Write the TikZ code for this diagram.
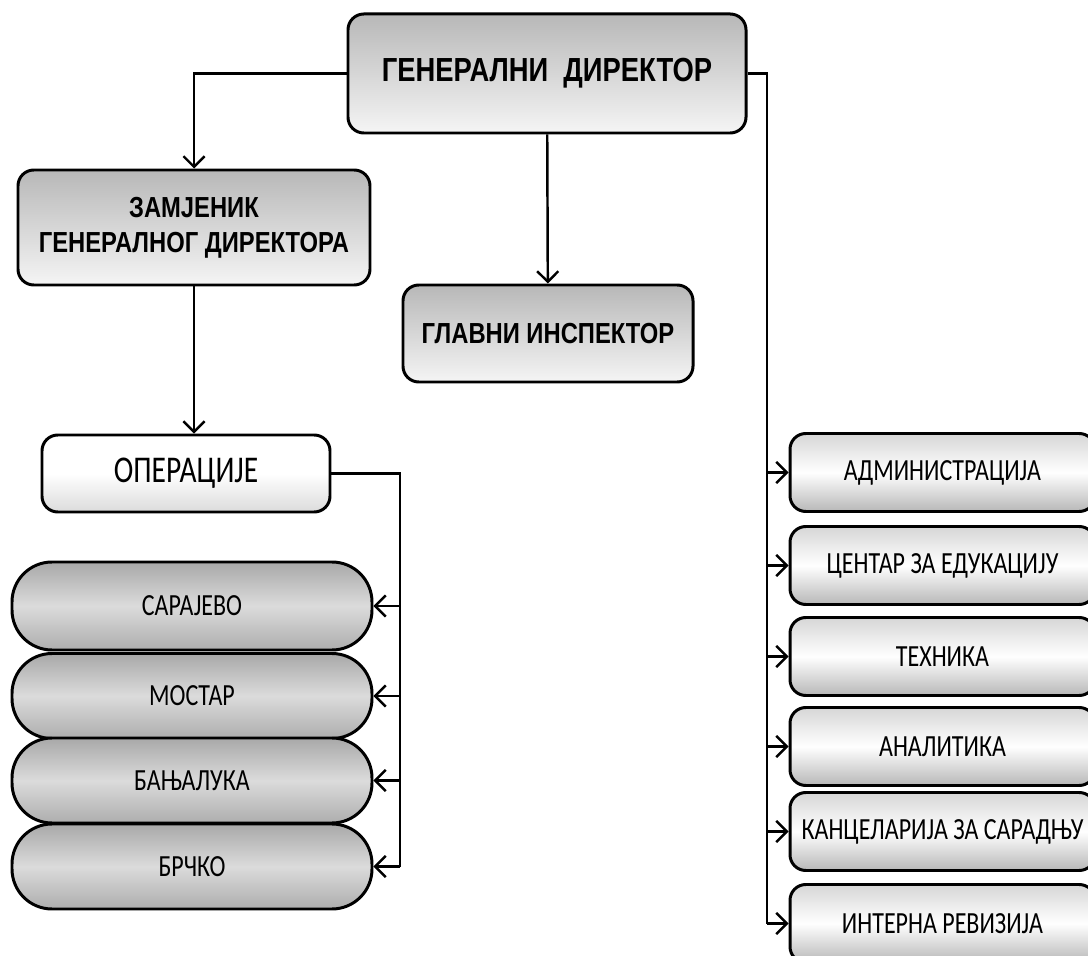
\documentclass[tikz,border=0pt]{standalone}
\usepackage{fontspec}
\newfontfamily\chieffont{Liberation Sans}[FakeStretch=0.82]
\newfontfamily\unitfont{Carlito}[FakeStretch=0.78]
\usetikzlibrary{arrows.meta,calc}

\tikzset{
  box/.style={draw=black,line width=1.7pt,rounded corners=9pt,inner sep=2pt},
  chief/.style={box,top color=black!28,bottom color=black!4,align=center,
    font=\chieffont\bfseries\fontsize{16.5}{20}\selectfont},
  unit/.style={box,top color=black!16,bottom color=black!28,middle color=white,
    minimum width=6.1cm,minimum height=1.56cm,font=\unitfont\fontsize{17.5}{18}\selectfont},
  city/.style={box,rounded corners=0.8cm,top color=black!34,bottom color=black!32,middle color=black!14,
    minimum width=7.2cm,minimum height=1.7cm,font=\unitfont\fontsize{17.5}{18}\selectfont},
  link/.style={line width=1.4pt},
  arr/.style={link,-{Straight Barb[length=6pt,width=12pt,line width=1.4pt]}}
}

\begin{document}
\begin{tikzpicture}
  \useasboundingbox (0,0) rectangle (21.76,-19.12);
  \clip (0,0) rectangle (21.76,-19.12);
  % top of the chart
  \node[chief,minimum width=7.96cm,minimum height=2.38cm,font=\chieffont\bfseries\fontsize{19}{22}\selectfont]
    (gen) at (10.94,-1.47) {ГЕНЕРАЛНИ\ \ ДИРЕКТОР};
  \node[chief,minimum width=7.04cm,minimum height=2.3cm] (zam) at (3.88,-4.55) {ЗАМЈЕНИК\\ГЕНЕРАЛНОГ ДИРЕКТОРА};
  \node[chief,minimum width=5.8cm,minimum height=1.94cm] (insp) at (10.96,-6.67) {ГЛАВНИ ИНСПЕКТОР};
  \node[unit,top color=white,bottom color=black!14,middle color=white,minimum width=5.76cm,minimum height=1.54cm,
    font=\unitfont\fontsize{21.5}{22}\selectfont] (oper) at (3.72,-9.47) {ОПЕРАЦИЈЕ};
  % offices
  \node[city,minimum height=1.76cm] (sar) at (3.84,-12.12) {САРАЈЕВО};
  \node[city] (mos) at (3.84,-13.92) {МОСТАР};
  \node[city] (ban) at (3.84,-15.61) {БАЊАЛУКА};
  \node[city] (brc) at (3.84,-17.33) {БРЧКО};
  % departments
  \node[unit] (adm) at (18.85,-9.45) {АДМИНИСТРАЦИЈА};
  \node[unit] (edu) at (18.85,-11.31) {ЦЕНТАР ЗА ЕДУКАЦИЈУ};
  \node[unit] (teh) at (18.85,-13.13) {ТЕХНИКА};
  \node[unit] (ana) at (18.85,-14.93) {АНАЛИТИКА};
  \node[unit] (kan) at (18.85,-16.63) {КАНЦЕЛАРИЈА ЗА САРАДЊУ};
  \node[unit] (int) at (18.85,-18.47) {ИНТЕРНА РЕВИЗИЈА};
  \coordinate (rbus) at (15.34,-1.47);
  \coordinate (lbus) at (8.0,-9.47);

  \draw[arr] (gen.west) -| (zam.north);
  \draw[arr] (gen) -- (insp);
  \draw[arr] (zam.south) -- (zam.south |- oper.north);
  \draw[link] (gen.east) -- (rbus) -- (rbus |- int.west);
  \foreach \d in {adm,edu,teh,ana,kan,int}
    \draw[arr] (rbus |- \d.west) -- (\d.west);
  \draw[link] (oper.east) -- (lbus) -- (lbus |- brc.east);
  \foreach \c in {sar,mos,ban,brc}
    \draw[arr] (lbus |- \c.east) -- (\c.east);
\end{tikzpicture}
\end{document}
